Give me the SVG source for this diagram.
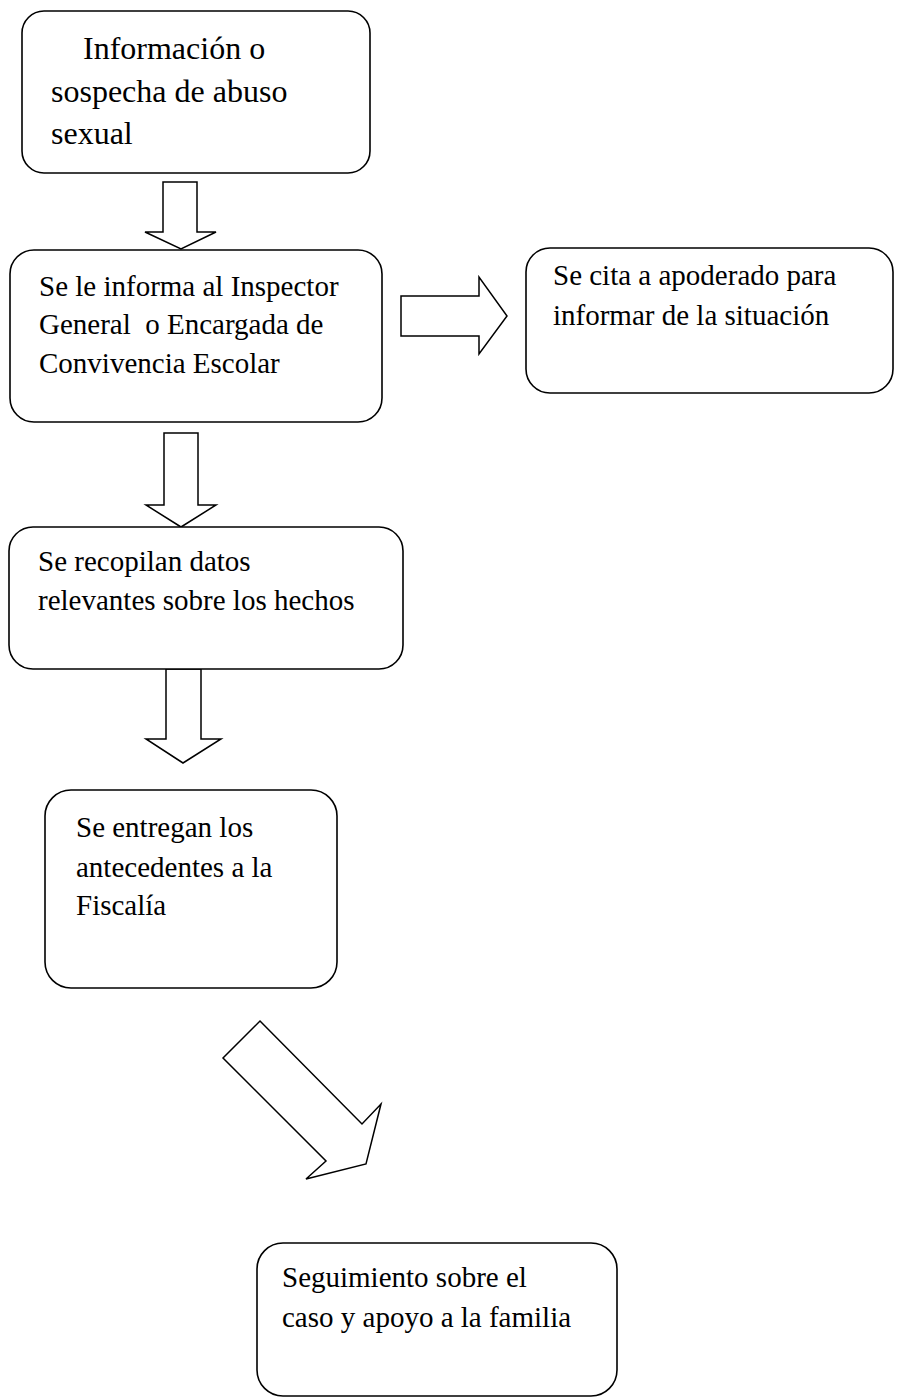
<svg xmlns="http://www.w3.org/2000/svg" width="903" height="1398" viewBox="0 0 903 1398">
<style>
.box{fill:#fff;stroke:#000;stroke-width:1.6}
.arr{fill:#fff;stroke:#000;stroke-width:1.5;stroke-linejoin:miter}
.t{font-family:"Liberation Serif","Times New Roman",serif;font-size:29px;fill:#000}
.t1{font-family:"Liberation Serif","Times New Roman",serif;font-size:32px;fill:#000}
</style>
<rect width="903" height="1398" fill="#fff"/>
<g id="connectors">
<polygon class="arr" points="163,182 197,182 197,232 216,232 181,249 145,232 163,232"/>
<polygon class="arr" points="401,296 479,296 479,277 507,316 479,354 479,336 401,336"/>
<polygon class="arr" points="164,433 198,433 198,505 216,505 181,527 146,505 164,505"/>
<polygon class="arr" points="166,669 201,669 201,739 221,739 183,763 146,739 166,739"/>
<polygon class="arr" points="260,1021 362,1124 381,1104 366,1164 306,1179 326,1161 223,1058"/>
</g>
<g id="n1">
<rect class="box" x="22" y="11" width="348" height="162" rx="22"/>
<text class="t1" x="83" y="59">Información o</text>
<text class="t1" x="51" y="102">sospecha de abuso</text>
<text class="t1" x="51" y="144">sexual</text>
</g>
<g id="n2">
<rect class="box" x="10" y="250" width="372" height="172" rx="24"/>
<text class="t" x="39" y="296">Se le informa al Inspector</text>
<text class="t" x="39" y="334" xml:space="preserve">General  o Encargada de</text>
<text class="t" x="39" y="373">Convivencia Escolar</text>
</g>
<g id="n3">
<rect class="box" x="526" y="248" width="367" height="145" rx="24"/>
<text class="t" x="553" y="285">Se cita a apoderado para</text>
<text class="t" x="553" y="325">informar de la situación</text>
</g>
<g id="n4">
<rect class="box" x="9" y="527" width="394" height="142" rx="24"/>
<text class="t" x="38" y="571">Se recopilan datos</text>
<text class="t" x="38" y="610">relevantes sobre los hechos</text>
</g>
<g id="n5">
<rect class="box" x="45" y="790" width="292" height="198" rx="26"/>
<text class="t" x="76" y="837">Se entregan los</text>
<text class="t" x="76" y="877">antecedentes a la</text>
<text class="t" x="76" y="915">Fiscalía</text>
</g>
<g id="n6">
<rect class="box" x="257" y="1243" width="360" height="153" rx="26"/>
<text class="t" x="282" y="1287">Seguimiento sobre el</text>
<text class="t" x="282" y="1327">caso y apoyo a la familia</text>
</g>
</svg>
